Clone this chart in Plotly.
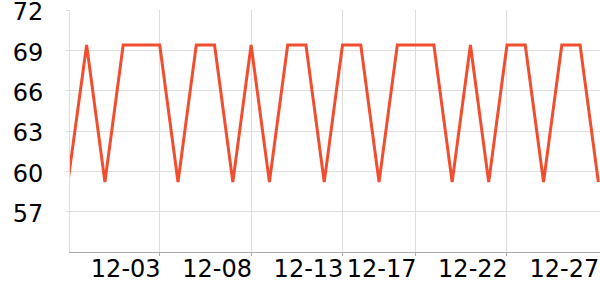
import plotly.graph_objects as go

dates = ["11-28", "11-29", "11-30", "12-01", "12-02", "12-03", "12-04", "12-05",
         "12-06", "12-07", "12-08", "12-09", "12-10", "12-11", "12-12", "12-13",
         "12-14", "12-15", "12-16", "12-17", "12-18", "12-19", "12-20", "12-21",
         "12-22", "12-23", "12-24", "12-25", "12-26", "12-27"]
values = [59.45, 69.4, 59.2, 69.4, 69.4, 69.4, 59.2, 69.4, 69.4, 59.2,
          69.4, 59.2, 69.4, 69.4, 59.2, 69.4, 69.4, 59.2, 69.4, 69.4,
          69.4, 59.2, 69.4, 59.2, 69.4, 69.4, 59.2, 69.4, 69.4, 59.2]
tick_dates = ["12-03", "12-08", "12-13", "12-17", "12-22", "12-27"]
grid_dates = tick_dates[:-1]
y_ticks = [57, 60, 63, 66, 69, 72]

x_range = [0.09, 29.09]

fig = go.Figure()
# invisible carrier trace for the label axis
fig.add_trace(go.Scatter(
    x=dates, y=values, mode="lines", xaxis="x2", yaxis="y",
    line=dict(color="rgba(0,0,0,0)", width=0), hoverinfo="skip", showlegend=False,
))
fig.add_trace(go.Scatter(
    x=dates, y=values, mode="lines",
    line=dict(color="#F04E2E", width=3),
    hoverinfo="skip", showlegend=False,
))

fig.update_layout(
    width=600, height=300,
    margin=dict(l=70, r=0, t=10, b=48),
    paper_bgcolor="white", plot_bgcolor="white",
    showlegend=False,
    font=dict(family="DejaVu Sans", size=24, color="#000000"),
    xaxis=dict(
        type="category", range=x_range, categoryorder="array", categoryarray=dates,
        tickmode="array", tickvals=grid_dates, ticktext=grid_dates,
        showticklabels=False, automargin=False,
        showgrid=True, gridcolor="#DDDDDD", gridwidth=1,
        showline=True, linecolor="#AAAAAA", linewidth=1,
        ticks="outside", ticklen=3, tickcolor="#AAAAAA",
        zeroline=False,
    ),
    xaxis2=dict(
        type="category", overlaying="x", matches="x", anchor="y", side="bottom",
        categoryorder="array", categoryarray=dates, automargin=False,
        tickmode="array", tickvals=tick_dates, ticktext=tick_dates,
        showgrid=False, showline=False, ticks="",
        ticklabelshift=-34, ticklabelstandoff=0,
        tickfont=dict(size=24, color="#000000"),
        zeroline=False,
    ),
    yaxis=dict(
        range=[54, 72], tickmode="array", tickvals=y_ticks,
        showgrid=True, gridcolor="#DDDDDD", gridwidth=1,
        showline=True, linecolor="#DDDDDD", linewidth=1,
        ticks="outside", ticklen=3, tickcolor="#DDDDDD",
        ticklabelstandoff=18, ticklabelshift=2,
        ticklabeloverflow="allow", automargin=False,
        tickfont=dict(size=24),
        zeroline=False,
    ),
)

fig.write_html("out.html")
